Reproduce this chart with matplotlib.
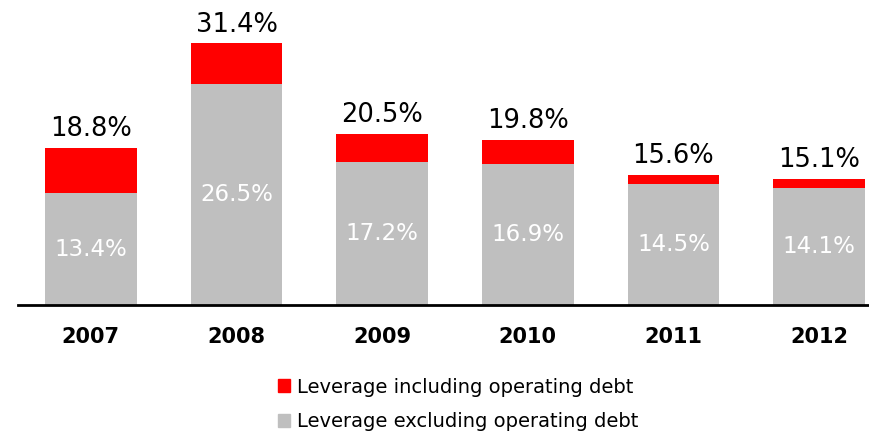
import matplotlib
matplotlib.use("Agg")
import matplotlib.pyplot as plt
from matplotlib.patches import Patch

years = ["2007", "2008", "2009", "2010", "2011", "2012"]
excl_operating = [13.4, 26.5, 17.2, 16.9, 14.5, 14.1]
incl_operating = [18.8, 31.4, 20.5, 19.8, 15.6, 15.1]

RED = "#FF0000"
GREY = "#BFBFBF"

plt.rcParams["font.family"] = "DejaVu Sans"

fig = plt.figure(figsize=(8.7, 4.34), dpi=100)
# axes placed so the baseline sits at y=305px, spanning x 18..870
ax = fig.add_axes([18 / 870, 129 / 434, 852 / 870, 300 / 434])

x = range(len(years))
top_part = [i - e for i, e in zip(incl_operating, excl_operating)]
ax.bar(x, excl_operating, width=0.63, color=GREY)
ax.bar(x, top_part, bottom=excl_operating, width=0.63, color=RED)

for xi, e, t in zip(x, excl_operating, incl_operating):
    ax.text(xi, e / 2, f"{e:.1f}%", ha="center", va="center",
            color="white", fontsize=16.5)
    ax.text(xi, t + 0.7, f"{t:.1f}%", ha="center", va="bottom",
            color="black", fontsize=18.5)

ax.set_xlim(-0.5, 5.35)
ax.set_ylim(0, 36)
ax.set_xticks(list(x))
ax.set_xticklabels(years, fontsize=15, fontweight="bold")
ax.tick_params(axis="x", length=0, pad=16)
ax.set_yticks([])
for s in ["top", "right", "left"]:
    ax.spines[s].set_visible(False)
ax.spines["bottom"].set_linewidth(2)

handles = [Patch(color=RED, label="Leverage including operating debt"),
           Patch(color=GREY, label="Leverage excluding operating debt")]
fig.legend(handles=handles, loc="upper left", bbox_to_anchor=(270 / 870, 1 - 370 / 434),
           frameon=False, fontsize=14, handlelength=0.65, handleheight=0.65,
           handletextpad=0.35, labelspacing=0.8, borderaxespad=0)

fig.savefig("out.png", dpi=100)
